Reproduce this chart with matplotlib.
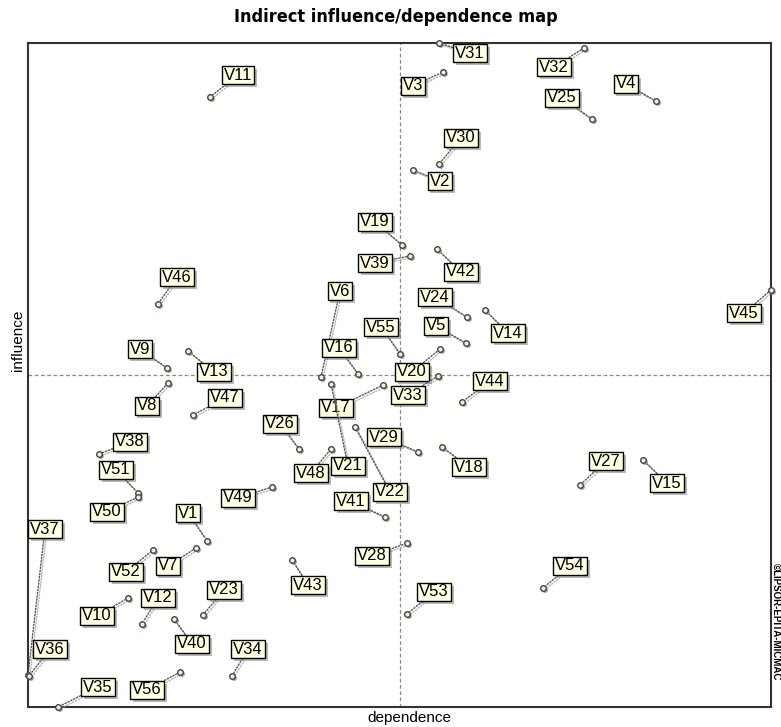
import matplotlib
matplotlib.use("Agg")
import matplotlib.pyplot as plt
import matplotlib.patheffects as pe
from matplotlib.path import Path
from matplotlib.transforms import ScaledTranslation

# ---- data (arbitrary map units) ----
variables = ["V11", "V31", "V3", "V32", "V4", "V25", "V30", "V2", "V19", "V39",
             "V42", "V46", "V6", "V24", "V14", "V5", "V55", "V45", "V9", "V13",
             "V16", "V20", "V33", "V17", "V21", "V48", "V44", "V8", "V47", "V26",
             "V29", "V18", "V22", "V41", "V38", "V51", "V50", "V49", "V1", "V37",
             "V27", "V15", "V52", "V7", "V43", "V28", "V54", "V10", "V12", "V23",
             "V53", "V40", "V36", "V34", "V56", "V35"]
dependence = [182, 411, 415, 556, 628, 564, 411, 385, 374, 382,
              409, 130, 293, 439, 457, 438, 372, 743, 139, 160,
              330, 412, 410, 355, 303, 303, 434, 140, 165, 271,
              390, 414, 327, 357, 71, 110, 110, 244, 179, 0,
              552, 615, 125, 168, 264, 379, 515, 100, 114, 175,
              379, 146, 1, 204, 152, 30]
influence = [610, 664, 635, 659, 606, 588, 543, 537, 462, 451,
             458, 403, 330, 390, 397, 364, 353, 417, 339, 356,
             333, 358, 331, 322, 323, 258, 305, 324, 292, 258,
             255, 260, 280, 190, 253, 214, 210, 220, 166, 32,
             222, 247, 157, 159, 147, 164, 119, 109, 83, 92,
             93, 88, 31, 31, 35, 0]

# label placement (offset of label centre from its point, in pixels)
label_offsets = {
    "V11": (28, 22), "V31": (31, -10), "V3": (-30, -14), "V32": (-30, -19),
    "V4": (-30, 17), "V25": (-30, 21), "V30": (22, 26), "V2": (27, -11),
    "V19": (-27, 23), "V39": (-35, -7), "V42": (24, -23), "V46": (19, 27),
    "V6": (19, 86), "V24": (-32, 20), "V14": (23, -23), "V5": (-30, 17),
    "V55": (-19, 27), "V45": (-27, -23), "V9": (-27, 19), "V13": (26, -21),
    "V16": (-19, 26), "V20": (-28, -23), "V33": (-30, -19), "V17": (-47, -23),
    "V21": (17, -82), "V48": (-20, -24), "V44": (28, 21), "V8": (-21, -23),
    "V47": (32, 17), "V26": (-19, 25), "V29": (-34, 15), "V18": (27, -20),
    "V22": (35, -65), "V41": (-34, 16), "V38": (31, 12), "V51": (-22, 23),
    "V50": (-31, -15), "V49": (-34, -11), "V1": (-19, 28), "V37": (17, 146),
    "V27": (26, 24), "V15": (24, -23), "V52": (-27, -22), "V7": (-28, -18),
    "V43": (16, -25), "V28": (-35, -13), "V54": (27, 22), "V10": (-31, -18),
    "V12": (16, 26), "V23": (21, 25), "V53": (27, 22), "V40": (18, -25),
    "V36": (21, 27), "V34": (16, 27), "V56": (-33, -18), "V35": (40, 20),
}

W, H = 781, 727
fig = plt.figure(figsize=(W / 100, H / 100), dpi=100)
fig.patch.set_facecolor("white")
ax = fig.add_axes([28 / W, 20 / H, 743 / W, 664 / H])
ax.set_xlim(0, 743)
ax.set_ylim(0, 664)
ax.set_xticks([])
ax.set_yticks([])
for s in ax.spines.values():
    s.set_linewidth(1.5)
    s.set_color("#333333")

xmid = sum(ax.get_xlim()) / 2
ymid = sum(ax.get_ylim()) / 2
ax.axvline(xmid, color="#8a8a8a", lw=0.9, ls=(0, (3, 2)), zorder=1)
ax.axhline(ymid, color="#8a8a8a", lw=0.9, ls=(0, (3, 2)), zorder=1)


def label_box(x0, y0, width, height, mutation_size):
    padx = 0.13 * mutation_size
    h = 1.08 * mutation_size
    cy = y0 + height / 2.0
    x1 = x0 - padx
    x2 = x0 + width + padx
    y1 = cy - h / 2.0
    y2 = cy + h / 2.0
    verts = [(x1, y1), (x2, y1), (x2, y2), (x1, y2), (x1, y1)]
    codes = [Path.MOVETO, Path.LINETO, Path.LINETO, Path.LINETO, Path.CLOSEPOLY]
    return Path(verts, codes)


for name, x, y in zip(variables, dependence, influence):
    dx, dy = label_offsets[name]
    ann = ax.annotate(
        name, xy=(x, y), xytext=(dx, dy), textcoords="offset pixels",
        ha="center", va="center", fontsize=12, family=["Liberation Sans", "DejaVu Sans"],
        color="black", zorder=4, annotation_clip=False,
        bbox=dict(boxstyle=label_box, fc="#ffffe1", ec="black", lw=1.0),
        arrowprops=dict(arrowstyle="-", color="#555555", lw=1.0,
                        linestyle=(0, (1, 1.3)), shrinkA=0, shrinkB=2.5),
    )
    ann.get_bbox_patch().set_path_effects([
        pe.SimplePatchShadow(offset=(2, -2), shadow_rgbFace="#808080", alpha=0.55),
        pe.Normal()])
    ann.arrow_patch.set_path_effects([
        pe.SimpleLineShadow(offset=(1.3, -1.3), shadow_color="#a0a0a0", alpha=0.8),
        pe.Normal()])

shadow_tr = ax.transData + ScaledTranslation(1.4 / 72, -1.4 / 72, fig.dpi_scale_trans)
ax.scatter(dependence, influence, s=18, c="#9a9a9a", edgecolors="none",
           transform=shadow_tr, zorder=5, clip_on=False)
ax.scatter(dependence, influence, s=16, c="#f2f2cc", edgecolors="#444444",
           linewidths=1.0, zorder=6, clip_on=False)

fig.text(396 / W, 1 - 17 / H, "Indirect influence/dependence map",
         ha="center", va="center", fontsize=13, fontweight="bold",
         family=["DejaVu Sans"], fontstretch="condensed")
fig.text(409 / W, 1 - 718 / H, "dependence", ha="center", va="center",
         fontsize=11, family=["Liberation Sans", "DejaVu Sans"])
fig.text(18 / W, 1 - 340 / H, "influence", ha="center", va="center",
         rotation=90, fontsize=11, family=["Liberation Sans", "DejaVu Sans"])
fig.text(776 / W, 1 - 563 / H, "©LIPSOR-EPITA-MICMAC", ha="center", va="top",
         rotation=270, fontsize=7, fontweight="bold",
         family=["Liberation Sans", "DejaVu Sans"])

fig.savefig("out.png", dpi=100, facecolor="white")
